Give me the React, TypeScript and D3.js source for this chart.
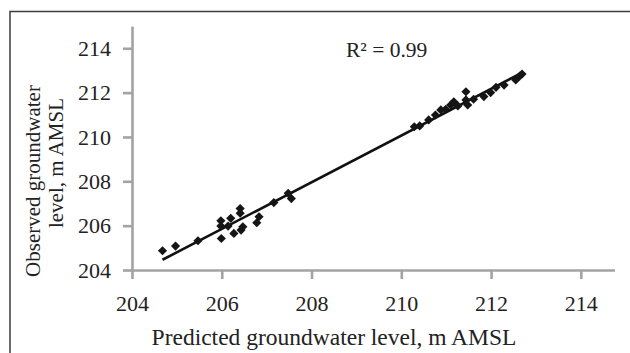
import React, { useEffect, useRef } from 'react';
import * as d3 from 'd3';

// predicted (x) vs observed (y), m AMSL
const predicted = [
  204.68, 204.97, 205.47, 205.98, 205.98, 205.99, 206.14, 206.2, 206.27, 206.41,
  206.41, 206.43, 206.47, 206.78, 206.83, 207.16, 207.48, 207.55,
  210.29, 210.41, 210.61, 210.76, 210.88, 210.99, 211.1, 211.17, 211.26, 211.44,
  211.44, 211.48, 211.61, 211.84, 211.99, 212.11, 212.29, 212.55, 212.64, 212.69,
];
const observed = [
  204.87, 205.08, 205.32, 206.22, 205.98, 205.42, 205.98, 206.33, 205.65, 206.77,
  206.56, 205.8, 205.95, 206.13, 206.4, 207.04, 207.46, 207.22,
  210.46, 210.5, 210.77, 210.99, 211.22, 211.25, 211.44, 211.59, 211.4, 212.04,
  211.67, 211.44, 211.7, 211.82, 212.0, 212.24, 212.34, 212.57, 212.75, 212.84,
];
const xTicks = [204, 206, 208, 210, 212, 214];
const yTicks = [204, 206, 208, 210, 212, 214];
const r2Label = 'R² = 0.99';

const App = () => {
  const svgRef = useRef<SVGSVGElement>(null);

  useEffect(() => {
    const svg = d3.select(svgRef.current);
    svg.selectAll('*').remove();

    const font = '"Liberation Serif", "Times New Roman", serif';
    const axisColor = '#a3a3a3';

    const x = d3.scaleLinear().domain([204, 214.75]).range([132, 614.5]);
    const y = d3.scaleLinear().domain([204, 215]).range([270, 26.1]);

    // frame
    svg
      .append('path')
      .attr('d', 'M10,360V11.5H640')
      .attr('fill', 'none')
      .attr('stroke', '#3c3c3c')
      .attr('stroke-width', 1.5);

    const xAxis = svg
      .append('g')
      .attr('transform', `translate(0,${y(204)})`)
      .call(d3.axisBottom(x).tickValues(xTicks).tickSize(9).tickPadding(16).tickSizeOuter(0));

    const yAxis = svg
      .append('g')
      .attr('transform', `translate(${x(204)},0)`)
      .call(d3.axisLeft(y).tickValues(yTicks).tickSize(9).tickPadding(12).tickSizeOuter(0));

    [xAxis, yAxis].forEach(g => {
      g.select('.domain').attr('stroke', axisColor).attr('stroke-width', 2.6);
      g.selectAll('.tick line').attr('stroke', axisColor).attr('stroke-width', 2.6);
      g.selectAll('.tick text')
        .attr('fill', '#222')
        .attr('font-family', font)
        .attr('font-size', 22);
    });

    // trend line (least squares)
    const mx = d3.mean(predicted)!;
    const my = d3.mean(observed)!;
    const sxy = d3.sum(predicted, (v, i) => (v - mx) * (observed[i] - my));
    const sxx = d3.sum(predicted, v => (v - mx) * (v - mx));
    const slope = sxy / sxx;
    const icpt = my - slope * mx;
    const [x0, x1] = d3.extent(predicted) as [number, number];
    svg
      .append('line')
      .attr('x1', x(x0))
      .attr('y1', y(slope * x0 + icpt))
      .attr('x2', x(x1))
      .attr('y2', y(slope * x1 + icpt))
      .attr('stroke', '#111')
      .attr('stroke-width', 2.6);

    const diamond = d3.symbol().type(d3.symbolSquare).size(42)();
    svg
      .append('g')
      .selectAll('path')
      .data(predicted)
      .join('path')
      .attr('d', diamond)
      .attr('transform', (d, i) => `translate(${x(d)},${y(observed[i])}) rotate(45)`)
      .attr('fill', '#151515');

    svg
      .append('text')
      .attr('x', 346)
      .attr('y', 57)
      .attr('font-family', font)
      .attr('font-size', 21.5)
      .attr('fill', '#222')
      .text(r2Label);

    svg
      .append('text')
      .attr('x', 334)
      .attr('y', 345)
      .attr('text-anchor', 'middle')
      .attr('font-family', font)
      .attr('font-size', 23.5)
      .attr('fill', '#222')
      .text('Predicted groundwater level, m AMSL');

    const yTitle = [
      { text: 'Observed groundwater', cx: 40, cy: 181 },
      { text: 'level, m AMSL', cx: 63, cy: 163 },
    ];
    svg
      .append('g')
      .selectAll('text')
      .data(yTitle)
      .join('text')
      .attr('transform', d => `translate(${d.cx},${d.cy}) rotate(-90)`)
      .attr('text-anchor', 'middle')
      .attr('font-family', font)
      .attr('font-size', 21)
      .attr('fill', '#222')
      .text(d => d.text);
  }, []);

  return (
    <svg
      ref={svgRef}
      width={630}
      height={353}
      style={{ position: 'absolute', left: 0, top: 0, background: '#fff' }}
    />
  );
};

export default App;
